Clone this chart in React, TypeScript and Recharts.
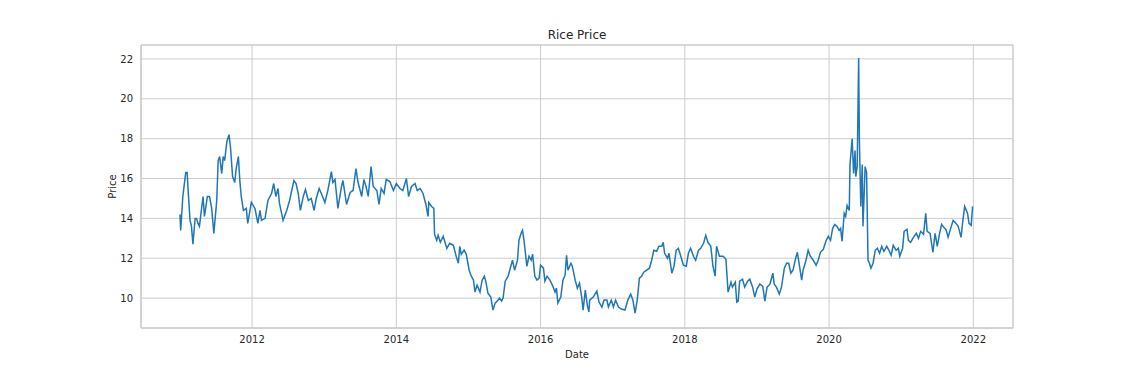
import { LineChart, Line, XAxis, YAxis, CartesianGrid, ReferenceArea } from 'recharts'

// decimal year of each reading
const years = [
  2011.0, 2011.01, 2011.04, 2011.08, 2011.1, 2011.11, 2011.14, 2011.16, 2011.18, 2011.21,
  2011.23, 2011.25, 2011.27, 2011.32, 2011.34, 2011.38, 2011.41, 2011.44, 2011.47, 2011.51,
  2011.53, 2011.55, 2011.58, 2011.6, 2011.62, 2011.65, 2011.68, 2011.7, 2011.73, 2011.76,
  2011.78, 2011.81, 2011.83, 2011.85, 2011.88, 2011.92, 2011.94, 2011.99, 2012.04, 2012.08,
  2012.11, 2012.13, 2012.18, 2012.22, 2012.27, 2012.3, 2012.33, 2012.36, 2012.38, 2012.43,
  2012.48, 2012.52, 2012.58, 2012.61, 2012.64, 2012.67, 2012.71, 2012.74, 2012.78, 2012.82,
  2012.86, 2012.89, 2012.93, 2012.96, 2013.01, 2013.05, 2013.1, 2013.12, 2013.15, 2013.19,
  2013.24, 2013.26, 2013.31, 2013.36, 2013.4, 2013.44, 2013.47, 2013.52, 2013.55, 2013.58,
  2013.61, 2013.65, 2013.68, 2013.73, 2013.76, 2013.79, 2013.83, 2013.86, 2013.91, 2013.96,
  2014.0, 2014.05, 2014.09, 2014.14, 2014.17, 2014.21, 2014.26, 2014.29, 2014.33, 2014.37,
  2014.41, 2014.44, 2014.45, 2014.49, 2014.52, 2014.53, 2014.56, 2014.58, 2014.61, 2014.65,
  2014.7, 2014.74, 2014.79, 2014.83, 2014.86, 2014.88, 2014.9, 2014.94, 2014.97, 2015.01,
  2015.04, 2015.07, 2015.09, 2015.12, 2015.16, 2015.19, 2015.22, 2015.24, 2015.27, 2015.31,
  2015.34, 2015.37, 2015.4, 2015.43, 2015.46, 2015.48, 2015.51, 2015.55, 2015.58, 2015.61,
  2015.64, 2015.68, 2015.7, 2015.73, 2015.75, 2015.77, 2015.79, 2015.81, 2015.84, 2015.87,
  2015.89, 2015.92, 2015.95, 2015.98, 2016.0, 2016.04, 2016.06, 2016.09, 2016.13, 2016.17,
  2016.2, 2016.22, 2016.24, 2016.28, 2016.31, 2016.34, 2016.36, 2016.38, 2016.42, 2016.44,
  2016.48, 2016.51, 2016.54, 2016.57, 2016.59, 2016.62, 2016.65, 2016.67, 2016.68, 2016.73,
  2016.78, 2016.81, 2016.85, 2016.88, 2016.92, 2016.94, 2016.98, 2017.01, 2017.04, 2017.08,
  2017.12, 2017.17, 2017.21, 2017.25, 2017.28, 2017.31, 2017.34, 2017.37, 2017.4, 2017.43,
  2017.47, 2017.51, 2017.54, 2017.57, 2017.61, 2017.64, 2017.68, 2017.7, 2017.72, 2017.76,
  2017.78, 2017.82, 2017.85, 2017.88, 2017.91, 2017.94, 2017.98, 2018.02, 2018.05, 2018.08,
  2018.12, 2018.15, 2018.19, 2018.22, 2018.26, 2018.29, 2018.32, 2018.36, 2018.39, 2018.42,
  2018.44, 2018.48, 2018.53, 2018.57, 2018.6, 2018.64, 2018.66, 2018.7, 2018.72, 2018.74,
  2018.76, 2018.8, 2018.83, 2018.87, 2018.9, 2018.94, 2018.97, 2019.0, 2019.04, 2019.08,
  2019.11, 2019.14, 2019.18, 2019.22, 2019.24, 2019.27, 2019.31, 2019.34, 2019.38, 2019.41,
  2019.44, 2019.47, 2019.5, 2019.53, 2019.56, 2019.59, 2019.62, 2019.64, 2019.68, 2019.71,
  2019.74, 2019.78, 2019.82, 2019.85, 2019.88, 2019.92, 2019.96, 2019.99, 2020.02, 2020.05,
  2020.08, 2020.11, 2020.14, 2020.16, 2020.18, 2020.21, 2020.23, 2020.25, 2020.28, 2020.29,
  2020.32, 2020.34, 2020.36, 2020.37, 2020.39, 2020.41, 2020.42, 2020.44, 2020.46, 2020.47,
  2020.5, 2020.52, 2020.54, 2020.56, 2020.58, 2020.61, 2020.64, 2020.67, 2020.7, 2020.73,
  2020.76, 2020.8, 2020.83, 2020.86, 2020.89, 2020.93, 2020.96, 2020.98, 2021.02, 2021.04,
  2021.08, 2021.1, 2021.13, 2021.17, 2021.21, 2021.24, 2021.27, 2021.31, 2021.34, 2021.36,
  2021.4, 2021.44, 2021.47, 2021.5, 2021.53, 2021.56, 2021.59, 2021.62, 2021.65, 2021.69,
  2021.72, 2021.76, 2021.79, 2021.83, 2021.85, 2021.88, 2021.92, 2021.94, 2021.97, 2021.99,
]

const prices = [
  14.2, 13.4, 15.1, 16.3, 16.3, 15.6, 13.9, 13.6, 12.7, 14.0,
  14.0, 13.75, 13.6, 15.1, 14.1, 15.1, 15.1, 14.5, 13.25, 14.9,
  16.9, 17.1, 16.25, 17.1, 16.9, 17.85, 18.2, 17.6, 16.1, 15.8,
  16.5, 17.1, 15.9, 15.1, 14.4, 14.5, 13.75, 14.8, 14.5, 13.75,
  14.4, 13.9, 14.0, 14.9, 15.25, 15.75, 15.1, 15.5, 14.75, 13.9,
  14.4, 14.9, 15.9, 15.75, 15.25, 14.4, 15.1, 15.45, 14.9, 15.0,
  14.4, 15.0, 15.5, 15.25, 14.8, 15.4, 16.35, 15.8, 15.95, 14.5,
  15.6, 15.9, 14.7, 15.3, 15.4, 16.5, 15.8, 15.1, 15.95, 15.6,
  15.1, 16.6, 15.6, 15.4, 14.7, 15.5, 15.25, 15.95, 15.85, 15.4,
  15.75, 15.5, 15.4, 16.0, 15.1, 15.6, 15.75, 15.4, 15.5, 15.25,
  14.7, 14.1, 14.8, 14.6, 14.5, 13.2, 12.9, 13.15, 12.8, 13.1,
  12.5, 12.75, 12.65, 12.1, 11.75, 12.6, 12.2, 12.4, 12.2, 11.4,
  11.1, 10.9, 10.3, 10.65, 10.3, 10.9, 11.1, 10.85, 10.25, 10.05,
  9.4, 9.75, 9.85, 10.0, 9.85, 10.0, 10.85, 11.1, 11.5, 11.9,
  11.4, 11.9, 12.9, 13.25, 13.4, 12.9, 12.25, 11.6, 12.1, 11.9,
  12.2, 11.1, 10.9, 11.0, 11.65, 11.5, 10.85, 11.1, 10.9, 10.6,
  10.3, 10.5, 9.75, 10.05, 10.9, 11.15, 12.15, 11.4, 11.75, 11.6,
  10.9, 10.5, 10.75, 10.05, 9.4, 10.4, 9.6, 9.3, 9.9, 10.05,
  10.35, 9.8, 9.55, 9.9, 9.9, 9.55, 9.9, 9.55, 9.9, 9.55,
  9.45, 9.4, 9.9, 10.2, 9.9, 9.25, 9.9, 11.0, 11.1, 11.3,
  11.4, 11.5, 11.9, 12.4, 12.35, 12.6, 12.6, 12.8, 12.25, 12.0,
  12.25, 11.25, 11.6, 12.4, 12.5, 12.15, 11.65, 11.6, 12.25, 12.5,
  12.1, 11.9, 12.4, 12.5, 12.75, 13.15, 12.8, 12.6, 11.6, 11.1,
  12.6, 12.1, 12.1, 11.95, 10.3, 10.8, 10.55, 10.8, 9.8, 9.85,
  10.85, 10.95, 10.55, 10.85, 10.95, 10.55, 10.05, 10.45, 10.7, 10.6,
  9.85, 10.55, 10.7, 11.25, 10.7, 10.55, 10.2, 10.55, 11.5, 11.75,
  11.75, 11.25, 11.4, 11.9, 12.3, 11.6, 10.9, 11.4, 11.9, 12.4,
  12.1, 11.9, 11.65, 11.9, 12.3, 12.45, 12.9, 13.1, 12.9, 13.5,
  13.7, 13.6, 13.4, 13.5, 12.85, 14.25, 14.1, 14.65, 14.4, 16.7,
  18.0, 16.25, 17.4, 16.1, 16.6, 22.05, 17.95, 14.6, 16.7, 13.6,
  16.6, 16.3, 11.9, 11.75, 11.5, 11.75, 12.4, 12.5, 12.25, 12.6,
  12.35, 12.6, 12.4, 12.15, 12.65, 12.4, 12.5, 12.1, 12.5, 13.35,
  13.45, 12.9, 12.8, 13.05, 13.25, 13.0, 13.35, 13.2, 14.25, 13.35,
  13.25, 12.3, 13.25, 12.6, 13.2, 13.7, 13.55, 13.45, 13.05, 13.55,
  13.9, 13.75, 13.6, 13.05, 13.75, 14.6, 14.25, 13.75, 13.65, 14.6,
]

const xTicks = [2012, 2014, 2016, 2018, 2020, 2022]
const yTicks = [10, 12, 14, 16, 18, 20, 22]
const xDomain = [2010.46, 2022.55]
const yDomain = [8.5, 22.7]

const data = years.map((t, i) => ({ t, price: prices[i] }))

const font = '"DejaVu Sans", sans-serif'
const tickStyle = { fontSize: 10, fill: '#262626', fontFamily: font }

export default function App() {
  return (
    <div
      style={{
        position: 'absolute',
        left: 0,
        top: 0,
        width: 1125,
        height: 375,
        background: '#fff',
        fontFamily: font,
      }}
    >
      <div
        style={{
          position: 'absolute',
          left: 141,
          top: 28,
          width: 872,
          textAlign: 'center',
          fontSize: 12,
          color: '#262626',
        }}
      >
        Rice Price
      </div>
      <LineChart
        width={1125}
        height={375}
        data={data}
        margin={{ top: 45, right: 112, bottom: 0, left: 0 }}
      >
        <CartesianGrid stroke="#cccccc" strokeWidth={1} />
        <XAxis
          dataKey="t"
          type="number"
          domain={xDomain}
          ticks={xTicks}
          allowDataOverflow
          height={47}
          tickSize={0}
          tickMargin={8}
          tick={tickStyle}
          axisLine={{ stroke: '#cccccc' }}
          label={{
            value: 'Date',
            position: 'insideBottom',
            offset: 17,
            style: { fontSize: 10, fill: '#262626', fontFamily: font },
          }}
        />
        <YAxis
          type="number"
          domain={yDomain}
          ticks={yTicks}
          allowDataOverflow
          width={141}
          tickSize={0}
          tickMargin={8}
          tick={tickStyle}
          axisLine={{ stroke: '#cccccc' }}
          label={{
            value: 'Price',
            angle: -90,
            position: 'insideLeft',
            offset: 112,
            style: { textAnchor: 'middle', fontSize: 10, fill: '#262626', fontFamily: font },
          }}
        />
        <ReferenceArea y1={yDomain[0]} y2={yDomain[1]} fill="none" stroke="#cccccc" />
        <Line
          type="linear"
          dataKey="price"
          stroke="#1f77b4"
          strokeWidth={1.5}
          dot={false}
          isAnimationActive={false}
        />
      </LineChart>
    </div>
  )
}
